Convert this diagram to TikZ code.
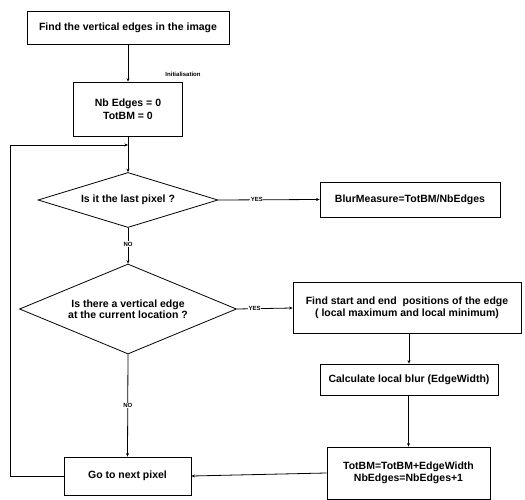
\documentclass[tikz,border=0pt]{standalone}
\usepackage{fontspec}
\setmainfont{Liberation Sans}
\usetikzlibrary{shapes.geometric,arrows.meta}
\begin{document}
\begin{tikzpicture}[x=1pt,y=-1pt,
  every node/.style={font=\fontsize{10.5}{11.5}\selectfont\bfseries},
  box/.style={draw,line width=0.8pt,inner sep=0pt,align=center},
  dec/.style={draw,diamond,line width=0.8pt,inner sep=0pt,align=center},
  lbl/.style={font=\fontsize{6}{6}\selectfont\bfseries,fill=white,inner sep=0.6pt},
  conn/.style={line width=0.8pt,-{Stealth[length=3.5pt,width=3pt]}},
  plain/.style={line width=0.8pt}]
\useasboundingbox (0,0) rectangle (525,500);
\node[box,minimum width=202pt,minimum height=33pt] (b1) at (128,27.5) {Find the vertical edges in the image};
\node[box,minimum width=109pt,minimum height=54pt,font=\fontsize{10.5}{13}\selectfont\bfseries] (b2) at (128,109) {Nb Edges = 0\\TotBM = 0};
\node[font=\fontsize{6}{6}\selectfont\bfseries] (init) at (183,74) {Initialisation};
\node[dec,aspect=3.27,minimum width=180pt,minimum height=55pt] (d1) at (128,200) {Is it the last pixel ?};
\node[box,minimum width=180pt,minimum height=35pt] (blur) at (410,199.5) {BlurMeasure=TotBM/NbEdges};
\node[dec,aspect=2.41,minimum width=217pt,minimum height=90pt] (d2) at (128,309) {Is there a vertical edge\\at the current location ?};
\node[box,minimum width=228pt,minimum height=51pt] (find) at (407,308) {Find start and end\ \ positions of the edge\\( local maximum and local minimum)};
\node[box,minimum width=178pt,minimum height=31pt] (calc) at (409,379.5) {Calculate local blur (EdgeWidth)};
\node[box,minimum width=163pt,minimum height=52pt] (tot) at (408.5,473) {TotBM=TotBM+EdgeWidth\\NbEdges=NbEdges+1};
\node[box,minimum width=127pt,minimum height=38pt] (go) at (127.5,476) {Go to next pixel};
\coordinate (merge) at (128,145);
\coordinate (lb) at (10,476);
\coordinate (lt) at (10,145);

\draw[conn] (b1.south) -- (b2.north);
\draw[plain] (b2.south) -- (merge);
\draw[conn] (merge) -- (d1.north);
\draw[conn] (d1.east) -- node[lbl,pos=0.38] (y1) {YES} (blur.west);
\draw[conn] (d1.south) -- node[lbl,pos=0.45] (n1) {NO} (d2.north);
\draw[conn] (d2.east) -- node[lbl,pos=0.32] (y2) {YES} (find.west);
\draw[conn] (find.south -| calc.north) -- (calc.north);
\draw[conn] (calc.south -| tot.north) -- (tot.north);
\draw[conn] (tot.west) -- (go.east);
\draw[conn] (d2.south) -- node[lbl,pos=0.5] (n2) {NO} (go.north);
\draw[plain] (go.west) -- (lb) -- (lt);
\draw[conn] (lt) -- (merge);
\end{tikzpicture}
\end{document}
